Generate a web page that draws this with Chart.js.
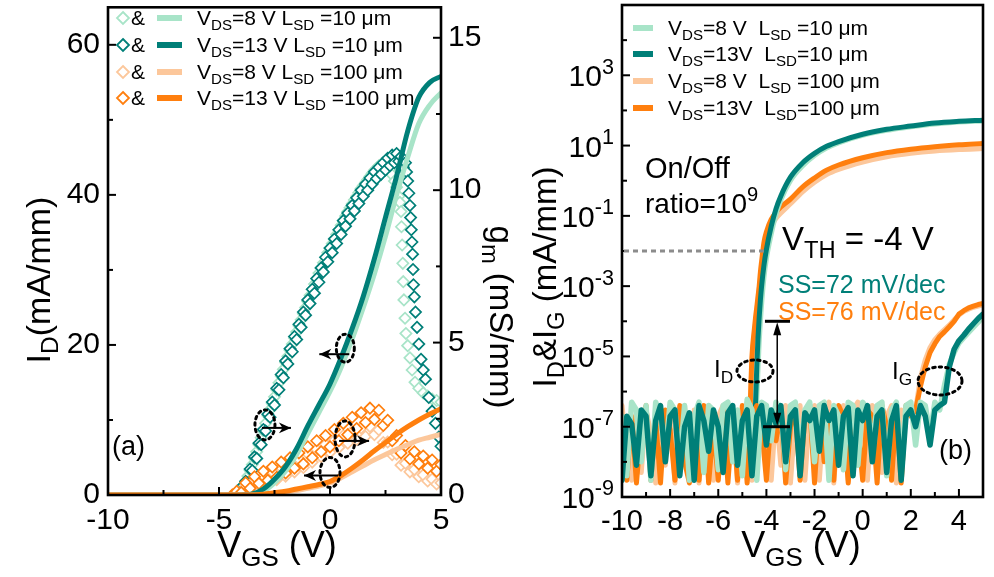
<!DOCTYPE html>
<html>
<head>
<meta charset="utf-8">
<script src="https://cdn.jsdelivr.net/npm/chart.js@4.4.1/dist/chart.umd.min.js"></script>
<style>
  body{margin:0;background:#fff;}
  #wrap{position:relative;width:994px;height:577px;overflow:hidden;}
  canvas{position:absolute;top:0;}
  #left{left:0;}
  #right{left:500px;}
</style>
</head>
<body>
<div id="wrap">
  <canvas id="left" width="530" height="577"></canvas>
  <canvas id="right" width="494" height="577"></canvas>
</div>
<script>
// ---------- data: panel (a), linear I_D and g_m ----------
const linV = [-10,-5,-4.5,-4,-3.5,-3,-2.5,-2,-1.5,-1,-0.5,0,0.5,1,1.5,2,2.5,3,3.5,4,4.5,5];
const idTeal13 = [0,0,0,0.05,0.15,0.8,2.1,3.8,6.2,9.2,12,14.8,18.3,22.2,26.5,31.5,37,42.5,48.5,53,55,55.8];
const idGreen8 = [0,0,0,0,0.05,0.5,1.6,3.2,5.4,8.2,11,13.8,17,20.8,25,29.5,34.5,40,45,49.5,52,53.6];
const idOrange13 = [0,0,0,0,0,0.1,0.3,0.5,0.8,1.1,1.4,1.8,2.6,3.6,4.7,5.9,7,8.1,9.1,10,10.8,11.5];
const idPeach8 = [0,0,0,0,0,0.05,0.2,0.4,0.6,0.9,1.2,1.6,2.3,3.1,3.9,4.7,5.4,6.1,6.7,7.3,7.7,8.1];

const gmTealV = [-4.3,-4.2,-4.1,-4,-3.9,-3.8,-3.7,-3.6,-3.5,-3.4,-3.3,-3.2,-3.1,-3,-2.9,-2.8,-2.7,-2.6,-2.5,-2.4,
  -2.3,-2.2,-2.1,-2,-1.9,-1.8,-1.7,-1.6,-1.5,-1.4,-1.3,-1.2,-1.1,-1,-0.9,-0.8,-0.7,-0.6,-0.5,-0.4,
  -0.3,-0.2,-0.1,0,0.1,0.2,0.3,0.4,0.5,0.6,0.7,0.8,0.9,1,1.1,1.2,1.3,1.4,1.5,1.6,
  1.7,1.8,1.9,2,2.1,2.2,2.3,2.4,2.5,2.6,2.7,2.8,2.9,3,3.1,3.2,3.3,3.4,
  3.45,3.5,3.55,3.6,3.63,3.66,3.69,3.72,3.74,3.76,3.8,3.85,3.92,4,4.1,4.2,4.3,4.45,4.6,4.75,4.9,5];
const gmTeal = [0,0.08,0.05,0.25,0.2,0.45,0.4,0.85,0.8,1.25,1.2,1.7,1.65,2.15,2.1,2.65,2.55,3.05,2.95,3.5,
  3.45,3.95,3.85,4.4,4.3,4.8,4.7,5.2,5.1,5.6,5.5,6,5.9,6.4,6.28,6.75,6.62,7.1,6.98,7.45,
  7.32,7.8,7.65,8.1,7.95,8.4,8.25,8.7,8.55,9,8.82,9.25,9.06,9.5,9.32,9.75,9.56,10,9.8,10.2,
  10,10.4,10.2,10.6,10.38,10.75,10.52,10.9,10.66,11.05,10.8,11.15,10.9,11.2,10.95,11.1,10.75,10.9,
  10.6,10.3,9.9,9.5,9.1,8.7,8.3,7.9,7.4,6.9,6.5,6,5.5,4.95,4.45,4.1,3.8,3.2,2.75,2.35,1.9,1.6];
const gmGreenV = [-4.3,-4.2,-4.1,-4,-3.9,-3.8,-3.7,-3.6,-3.5,-3.4,-3.3,-3.2,-3.1,-3,-2.9,-2.8,-2.7,-2.6,-2.5,-2.4,
  -2.3,-2.2,-2.1,-2,-1.9,-1.8,-1.7,-1.6,-1.5,-1.4,-1.3,-1.2,-1.1,-1,-0.9,-0.8,-0.7,-0.6,-0.5,-0.4,
  -0.3,-0.2,-0.1,0,0.1,0.2,0.3,0.4,0.5,0.6,0.7,0.8,0.9,1,1.1,1.2,1.3,1.4,1.5,1.6,
  1.7,1.8,1.9,2,2.1,2.2,2.3,2.4,2.5,2.6,2.7,2.8,2.9,3,3.1,
  3.15,3.2,3.22,3.25,3.28,3.3,3.33,3.38,3.42,3.5,3.6,3.7,3.83,4,4.2,4.4,4.6,4.8,5];
const gmGreen = [0,0.05,0.12,0.2,0.32,0.45,0.62,0.8,1,1.2,1.42,1.65,1.88,2.1,2.35,2.6,2.8,3,3.22,3.45,
  3.68,3.9,4.12,4.35,4.55,4.75,4.95,5.15,5.35,5.55,5.75,5.95,6.15,6.35,6.55,6.75,6.92,7.1,7.28,7.45,
  7.62,7.8,7.95,8.1,8.25,8.4,8.55,8.7,8.85,9,9.15,9.3,9.42,9.55,9.68,9.8,9.92,10.05,10.15,10.25,
  10.35,10.45,10.55,10.65,10.72,10.8,10.85,10.9,10.88,10.8,10.68,10.5,10.3,10.1,9.8,
  9.6,9.3,8.8,8.2,7.6,7,6.4,5.8,5.3,4.9,4.5,4.1,3.7,3.5,3.35,3.25,3.15,3.1,3.05];
const gmOrangeV = [-4.4,-4.2,-4,-3.8,-3.6,-3.4,-3.2,-3,-2.8,-2.6,-2.4,-2.2,-2,-1.8,-1.6,-1.4,-1.2,-1,-0.8,-0.6,
  -0.4,-0.2,0,0.2,0.4,0.6,0.8,1,1.2,1.4,1.6,1.8,2,2.2,2.4,2.6,2.8,3,3.2,3.4,
  3.6,3.8,4,4.2,4.4,4.6,4.8,5];
const gmOrange = [0,0.12,0.08,0.4,0.22,0.6,0.38,0.78,0.48,0.92,0.58,1.08,0.72,1.22,0.88,1.38,1.02,1.58,1.22,1.78,
  1.42,1.95,1.58,2.15,1.78,2.35,1.98,2.55,2.18,2.7,2.38,2.85,2.48,2.78,2.28,2.45,1.78,1.95,1.38,1.62,
  1.18,1.42,1.02,1.28,0.88,1.15,0.78,1.0];
const gmPeach = [0,0.05,0.1,0.3,0.2,0.48,0.3,0.63,0.4,0.76,0.5,0.9,0.62,1.03,0.76,1.18,0.9,1.35,1.08,1.5,
  1.26,1.66,1.4,1.8,1.56,1.95,1.7,2.1,1.82,2.2,1.92,2.25,1.98,2.14,1.72,1.74,1.32,1.34,0.98,1.04,
  0.76,0.84,0.6,0.66,0.46,0.52,0.36,0.4];

// ---------- data: panel (b), log I_D and I_G ----------
const idV = [-4.7,-4.6,-4.5,-4.45,-4.4,-4.35,-4.3,-4.25,-4.2,-4.1,-4,-3.8,-3.6,-3.4,-3,-2.5,-2,-1.5,-1,0,1,2,3,4,5];
const logIdTeal = [6e-8,6e-8,1e-7,5e-7,5e-6,3.2e-5,1.3e-4,4e-4,1e-3,4e-3,1.1e-2,0.05,0.16,0.37,1.26,3.2,6,9.5,13,21,29,36,44,49,52.5];
const logIdGreen = [6e-8,6e-8,8e-8,1.5e-7,6e-7,4e-6,2.5e-5,1e-4,3e-4,1.8e-3,6e-3,0.03,0.11,0.28,1,2.6,5.2,8.5,12,19.5,27,34,41,46.5,50];
const logIdOrange = [1e-7,1e-5,6e-5,1.3e-4,2.5e-4,5e-4,1e-3,2.5e-3,5e-3,0.018,0.035,0.079,0.126,0.178,0.3,0.66,1.2,2,2.8,4.5,6.3,7.9,9.3,10.5,11.5];
const logIdPeach = [8e-8,6e-6,4e-5,9e-5,1.8e-4,4e-4,8e-4,1.6e-3,3e-3,0.011,0.022,0.05,0.085,0.12,0.22,0.48,0.9,1.5,2.1,3.4,4.8,6,7,7.7,8.2];

const gateV = [-10,-9.8,-9.6,-9.4,-9.2,-9,-8.8,-8.6,-8.4,-8.2,
  -8,-7.8,-7.6,-7.4,-7.2,-7,-6.8,-6.6,-6.4,-6.2,
  -6,-5.8,-5.6,-5.4,-5.2,-5,-4.8,-4.6,-4.4,-4.2,
  -4,-3.8,-3.6,-3.4,-3.2,-3,-2.8,-2.6,-2.4,-2.2,
  -2,-1.8,-1.6,-1.4,-1.2,-1,-0.8,-0.6,-0.4,-0.2,
  0,0.2,0.4,0.6,0.8,1,1.2,1.4,1.6,1.8,
  2,2.2,2.4,2.6,2.8,3,3.2,3.4,3.6,3.8,
  4,4.2,4.4,4.6,4.8,5];
const igTeal = [3e-9,2e-7,1.2e-7,8e-9,3e-7,2e-7,4e-9,1.5e-7,4e-7,1e-8,
  2e-7,3e-7,4e-9,1e-7,2.5e-7,3e-9,4e-7,1.5e-7,2e-8,3e-7,
  1e-7,5e-9,2.5e-7,4e-7,8e-9,1.5e-7,3e-7,4e-9,2e-7,4e-7,
  3e-8,3e-7,1.2e-7,4e-7,1e-8,2e-7,3e-7,4e-9,2.5e-7,1.5e-7,
  3e-7,2e-8,4e-7,1.5e-7,3e-7,8e-9,2e-7,3.5e-7,4e-9,3e-7,
  1.5e-7,4e-7,1e-8,2e-7,3e-7,5e-9,1.5e-7,4e-7,3e-9,2e-7,
  3e-7,1e-7,4e-7,2e-7,3e-8,3e-7,4e-7,5e-7,5e-6,1.6e-5,
  2.8e-5,4e-5,6e-5,8.5e-5,1.2e-4,1.6e-4];
const igGreen = [2e-7,4e-9,5e-7,3e-7,1e-8,4e-7,3e-9,5e-7,2e-7,1.5e-8,
  5e-7,3e-7,8e-9,4e-7,3e-9,2e-7,5e-7,5e-9,4e-7,3e-7,
  6e-9,4e-7,5e-7,1e-8,3e-7,4e-9,6e-7,3e-7,3e-9,5e-7,
  4e-7,4e-8,5e-7,3e-7,6e-9,4e-7,5e-7,2e-8,3e-7,5e-7,
  1e-8,4e-7,5e-7,3e-9,4e-7,2e-7,6e-9,5e-7,4e-7,8e-9,
  5e-7,3e-7,3e-8,4e-7,5e-7,4e-9,3e-7,5e-7,1e-8,4e-7,
  5e-7,3e-8,5e-7,4e-7,6e-8,5e-7,3e-7,1.5e-6,6e-6,1.3e-5,
  2.4e-5,3.4e-5,4.8e-5,6.8e-5,9.5e-5,1.35e-4];
const igOrange = [5e-8,3e-9,2e-7,2.5e-9,1e-7,4e-7,3e-9,1.5e-7,2.5e-9,3e-7,
  8e-8,3e-9,4e-7,1e-8,2.5e-9,2e-7,3e-9,4e-7,2.5e-9,1e-7,
  3e-9,3e-7,2.5e-9,2e-7,3e-9,4e-7,2.5e-9,2e-7,4e-7,1e-7,
  3e-9,2e-7,4e-8,3e-7,2.5e-9,1e-7,3e-7,3e-9,2e-7,4e-7,
  2.5e-9,3e-7,1e-8,2e-7,3e-9,4e-7,2e-7,2.5e-9,3e-7,1e-7,
  3e-9,3e-7,2e-7,2.5e-9,4e-7,1e-7,3e-9,3e-7,2.5e-9,4e-7,
  2e-7,3e-7,1.4e-6,5e-6,1.3e-5,2.3e-5,3.7e-5,5e-5,7e-5,1e-4,
  1.6e-4,2e-4,2.4e-4,2.7e-4,3e-4,3.2e-4];
const igPeach = [4e-7,2e-8,3e-9,3e-7,5e-9,3e-7,6e-8,2.5e-9,4e-7,8e-9,
  3e-7,2.5e-9,2e-7,4e-7,5e-9,3e-7,2.5e-9,1e-7,4e-7,3e-9,
  2e-7,4e-7,6e-9,3e-7,2.5e-9,2e-7,5e-7,3e-9,3e-7,2e-7,
  4e-7,3e-9,3e-7,8e-9,4e-7,2.5e-9,2e-7,4e-7,3e-9,3e-7,
  4e-7,3e-9,3e-7,5e-7,2.5e-9,2e-7,4e-7,3e-9,3e-7,5e-7,
  2e-7,3e-9,4e-7,3e-7,5e-9,2e-7,4e-7,2.5e-9,3e-7,2e-7,
  4e-7,3e-7,2.5e-6,8e-6,1.8e-5,3e-5,4.3e-5,5.8e-5,7.8e-5,1.1e-4,
  1.5e-4,1.9e-4,2.2e-4,2.5e-4,2.7e-4,2.9e-4];

// ---------- ticks and labels ----------
const leftXTicks = [-10,-5,0,5];
const leftXMinor = [-7.5,-2.5,2.5];
const leftYTicks = [0,20,40,60];
const leftYMinor = [10,30,50];
const gmTicks = [0,5,10,15];
const gmMinor = [2.5,7.5,12.5];
const rightXTicks = [-10,-8,-6,-4,-2,0,2,4];
const rightXMinor = [-9,-7,-5,-3,-1,1,3,5];
const rightYExp = [-9,-7,-5,-3,-1,1,3];
const rightYMinorExp = [-8,-6,-4,-2,0,2,4];

const legendA = ['V_{DS}=8 V L_{SD} =10 μm','V_{DS}=13 V L_{SD} =10 μm','V_{DS}=8 V L_{SD} =100 μm','V_{DS}=13 V L_{SD} =100 μm'];
const legendB = ['V_{DS}=8 V  L_{SD} =10 μm','V_{DS}=13V  L_{SD}=10 μm','V_{DS}=8 V  L_{SD} =100 μm','V_{DS}=13V  L_{SD}=100 μm'];

const TEAL = '#007f78', GREEN = '#a8e4c8', ORANGE = '#ff7f0e', PEACH = '#fcc79b';
const legendColors = [GREEN, TEAL, PEACH, ORANGE];
const FF = '"Liberation Sans", Arial, sans-serif';

Chart.defaults.font.family = FF;
Chart.defaults.color = '#000';

function pts(xs, ys){ return xs.map((x,i)=>({x:x, y:ys[i]})); }

function parse(str){
  const parts=[]; const re=/([_^])\{([^}]*)\}/g; let last=0, m;
  while((m=re.exec(str))){
    if(m.index>last) parts.push([str.slice(last,m.index),0]);
    parts.push([m[2], m[1]==='_'?1:2]);
    last=re.lastIndex;
  }
  if(last<str.length) parts.push([str.slice(last),0]);
  return parts;
}
function rich(ctx, str, x, y, size, align, color){
  const parts=parse(str);
  let w=0;
  parts.forEach(p=>{ ctx.font=(p[1]?size*0.72:size)+'px '+FF; w+=ctx.measureText(p[0]).width; });
  let cx = align==='center' ? x-w/2 : align==='right' ? x-w : x;
  ctx.textAlign='left'; ctx.textBaseline='alphabetic'; ctx.fillStyle=color||'#000';
  parts.forEach(p=>{
    const s=p[1]?size*0.72:size;
    ctx.font=s+'px '+FF;
    const dy = p[1]===1 ? size*0.24 : p[1]===2 ? -size*0.42 : 0;
    ctx.fillText(p[0], cx, y+dy);
    cx+=ctx.measureText(p[0]).width;
  });
}
function rotText(ctx, str, x, y, size, ang){
  ctx.save(); ctx.translate(x,y); ctx.rotate(ang); rich(ctx,str,0,0,size,'center'); ctx.restore();
}
function frame(ctx, a){
  ctx.strokeStyle='#000'; ctx.lineWidth=2.6;
  ctx.strokeRect(a.left, a.top, a.right-a.left, a.bottom-a.top);
}
function tick(ctx, x1, y1, x2, y2){
  ctx.beginPath(); ctx.moveTo(x1,y1); ctx.lineTo(x2,y2); ctx.stroke();
}
function dottedEllipse(ctx, cx, cy, rx, ry){
  ctx.save(); ctx.setLineDash([2.5,4]); ctx.lineCap='round'; ctx.lineWidth=3; ctx.strokeStyle='#000';
  ctx.beginPath(); ctx.ellipse(cx,cy,rx,ry,0,0,Math.PI*2); ctx.stroke(); ctx.restore();
}
function arrow(ctx, x1, y1, x2, y2, head){
  const ang=Math.atan2(y2-y1,x2-x1);
  ctx.save(); ctx.strokeStyle='#000'; ctx.fillStyle='#000'; ctx.lineWidth=2;
  ctx.beginPath(); ctx.moveTo(x1,y1); ctx.lineTo(x2,y2); ctx.stroke();
  ctx.translate(x2,y2); ctx.rotate(ang);
  ctx.beginPath(); ctx.moveTo(0,0); ctx.lineTo(-head,-head*0.45); ctx.lineTo(-head*0.7,0); ctx.lineTo(-head,head*0.45); ctx.closePath(); ctx.fill();
  ctx.restore();
}
function diamond(ctx, x, y, r, color){
  ctx.save(); ctx.strokeStyle=color; ctx.lineWidth=1.8; ctx.fillStyle='#fff';
  ctx.beginPath(); ctx.moveTo(x,y-r); ctx.lineTo(x+r,y); ctx.lineTo(x,y+r); ctx.lineTo(x-r,y); ctx.closePath();
  ctx.fill(); ctx.stroke(); ctx.restore();
}
function fixPad(s){ s.paddingTop=0; s.paddingBottom=0; s.paddingLeft=0; s.paddingRight=0; }
function setTicks(list){ return function(s){ s.ticks=list.map(v=>({value:v})); }; }

function lineSet(data, color, w){
  return {type:'line', data:data, borderColor:color, borderWidth:w, pointRadius:0, fill:false,
    cubicInterpolationMode:'monotone', borderJoinStyle:'round', borderCapStyle:'round'};
}
function noiseSet(data, color, w){
  return {type:'line', data:data, borderColor:color, borderWidth:w, pointRadius:0, fill:false,
    tension:0, borderJoinStyle:'round', borderCapStyle:'round'};
}
function markSet(data, color){
  return {type:'line', data:data, showLine:false, yAxisID:'y2', pointStyle:'rectRot', pointRadius:5.6,
    pointBorderWidth:1.7, pointBorderColor:color, pointBackgroundColor:'#fff', borderColor:color};
}

// ---------- panel (a) ----------
const extrasA = {
  id:'extrasA',
  afterDraw(chart){
    const {ctx, chartArea:a, scales:{x, y, y2}} = chart;
    ctx.save();
    frame(ctx, a);
    ctx.lineWidth=2; ctx.strokeStyle='#000';
    leftXTicks.forEach(v=>{ const px=x.getPixelForValue(v); tick(ctx,px,a.bottom,px,a.bottom-8); });
    leftXMinor.forEach(v=>{ const px=x.getPixelForValue(v); tick(ctx,px,a.bottom,px,a.bottom-5); });
    leftYTicks.forEach(v=>{ const py=y.getPixelForValue(v); tick(ctx,a.left,py,a.left+8,py); });
    leftYMinor.forEach(v=>{ const py=y.getPixelForValue(v); tick(ctx,a.left,py,a.left+5,py); });
    gmTicks.forEach(v=>{ const py=y2.getPixelForValue(v); tick(ctx,a.right,py,a.right-8,py); });
    gmMinor.forEach(v=>{ const py=y2.getPixelForValue(v); tick(ctx,a.right,py,a.right-5,py); });

    // legend
    const rows=[18,45,72,98];
    rows.forEach((ry,i)=>{
      diamond(ctx,123,ry,6,legendColors[i]);
      ctx.font='21px '+FF; ctx.fillStyle='#000'; ctx.textAlign='left'; ctx.textBaseline='alphabetic';
      ctx.fillText('&',131,ry+7);
      ctx.strokeStyle=legendColors[i]; ctx.lineWidth=6;
      tick(ctx,157,ry,182,ry);
      rich(ctx,legendA[i],197,ry+7,21,'left');
    });
    rich(ctx,'(a)',112,455,27,'left');

    // circled markers with arrows
    let px=x.getPixelForValue(0.6), py=y.getPixelForValue(19.3);
    dottedEllipse(ctx,px+2,py-2,9,14); arrow(ctx,px+6,py+4,px-24,py+4,12);
    px=x.getPixelForValue(-2.93); py=y2.getPixelForValue(2.3);
    dottedEllipse(ctx,px,py,10,15); arrow(ctx,px-3,py+3,px+26,py+3,12);
    px=x.getPixelForValue(0.68); py=y2.getPixelForValue(1.84);
    dottedEllipse(ctx,px,py,10,18); arrow(ctx,px-6,py+2,px+24,py+2,12);
    px=x.getPixelForValue(0); py=y.getPixelForValue(3.0);
    dottedEllipse(ctx,px,py,10,15); arrow(ctx,px+8,py+3,px-26,py+3,12);

    // axis titles
    rotText(ctx,'I_{D}(mA/mm)',50,280,34,-Math.PI/2);
    rotText(ctx,'g_{m} (mS/mm)',490,317,33,Math.PI/2);
    rich(ctx,'V_{GS} (V)',277,557,36,'center');
    ctx.restore();
  }
};

new Chart(document.getElementById('left'), {
  data:{ datasets:[
    lineSet(pts(linV,idOrange13),ORANGE,5),
    lineSet(pts(linV,idPeach8),PEACH,5),
    lineSet(pts(linV,idTeal13),TEAL,5),
    lineSet(pts(linV,idGreen8),GREEN,5),
    markSet(pts(gmOrangeV,gmOrange),ORANGE),
    markSet(pts(gmOrangeV,gmPeach),PEACH),
    markSet(pts(gmTealV,gmTeal),TEAL),
    markSet(pts(gmGreenV,gmGreen),GREEN)
  ]},
  options:{
    responsive:false, animation:false, devicePixelRatio:1, events:[],
    layout:{padding:{top:5,left:0,right:0,bottom:0}},
    plugins:{legend:{display:false}, tooltip:{enabled:false}},
    scales:{
      x:{type:'linear', min:-10, max:5, grid:{display:false, drawTicks:false}, border:{display:false},
        afterBuildTicks:setTicks(leftXTicks),
        afterFit(s){ s.height=82; fixPad(s); },
        ticks:{font:{size:30}, padding:8, maxRotation:0, autoSkip:false}},
      y:{type:'linear', min:0, max:65, grid:{display:false, drawTicks:false}, border:{display:false},
        afterBuildTicks:setTicks(leftYTicks),
        afterFit(s){ s.width=108; fixPad(s); },
        ticks:{font:{size:30}, padding:8}},
      y2:{type:'linear', position:'right', min:0, max:16, grid:{display:false, drawTicks:false}, border:{display:false},
        afterBuildTicks:setTicks(gmTicks),
        afterFit(s){ s.width=89; fixPad(s); },
        ticks:{font:{size:30}, padding:7}}
    }
  },
  plugins:[extrasA]
});

// ---------- panel (b) ----------
const extrasB = {
  id:'extrasB',
  afterDraw(chart){
    const {ctx, chartArea:a, scales:{x, y}} = chart;
    ctx.save();
    frame(ctx, a);
    ctx.lineWidth=2; ctx.strokeStyle='#000';
    rightXTicks.forEach(v=>{ const px=x.getPixelForValue(v); tick(ctx,px,a.bottom,px,a.bottom-8); });
    rightXMinor.forEach(v=>{ const px=x.getPixelForValue(v); tick(ctx,px,a.bottom,px,a.bottom-5); });
    rightYExp.forEach(e=>{
      const py=y.getPixelForValue(Math.pow(10,e)); tick(ctx,a.left,py,a.left+8,py);
      rich(ctx,'10^{'+(e<0?'-':'')+Math.abs(e)+'}',a.left-8,py+11,30,'right');
    });
    rightYMinorExp.forEach(e=>{ const py=y.getPixelForValue(Math.pow(10,e)); tick(ctx,a.left,py,a.left+5,py); });

    // legend
    const rows=[28,54,81,108];
    rows.forEach((ry,i)=>{
      ctx.strokeStyle=legendColors[i]; ctx.lineWidth=6;
      tick(ctx,133,ry,153,ry);
      rich(ctx,legendB[i],168,ry+7,21,'left');
    });

    // threshold guide
    const yth=y.getPixelForValue(1e-2);
    ctx.save(); ctx.strokeStyle='#8c8c8c'; ctx.lineWidth=3; ctx.setLineDash([5,4]);
    tick(ctx,a.left+2,yth,x.getPixelForValue(-3.95),yth); ctx.restore();

    // on/off arrow with caps
    const ax=x.getPixelForValue(-3.55), yTop=y.getPixelForValue(1e-4), yBot=y.getPixelForValue(1e-7);
    ctx.strokeStyle='#000'; ctx.lineWidth=3;
    tick(ctx,x.getPixelForValue(-4.06),yTop,x.getPixelForValue(-3.02),yTop);
    tick(ctx,x.getPixelForValue(-4.14),yBot,x.getPixelForValue(-3.02),yBot);
    ctx.lineWidth=1.5; tick(ctx,ax,yTop+8,ax,yBot-8);
    ctx.fillStyle='#000';
    ctx.beginPath(); ctx.moveTo(ax,yTop+1); ctx.lineTo(ax-4,yTop+14); ctx.lineTo(ax+4,yTop+14); ctx.closePath(); ctx.fill();
    ctx.beginPath(); ctx.moveTo(ax,yBot-1); ctx.lineTo(ax-4,yBot-14); ctx.lineTo(ax+4,yBot-14); ctx.closePath(); ctx.fill();

    // text annotations
    rich(ctx,'On/Off',145,178,29,'left');
    rich(ctx,'ratio=10^{9}',145,213,28,'left');
    rich(ctx,'V_{TH} = -4 V',282,250,33,'left');
    rich(ctx,'SS=72 mV/dec',278,293,25,'left',TEAL);
    rich(ctx,'SS=76 mV/dec',278,320,25,'left',ORANGE);
    rich(ctx,'I_{D}',214,377,24,'left');
    dottedEllipse(ctx,255,371,18,11);
    rich(ctx,'I_{G}',392,379,24,'left');
    dottedEllipse(ctx,440,381,22,14);
    rich(ctx,'(b)',439,459,27,'left');

    // axis titles
    rotText(ctx,'I_{D}&I_{G} (mA/mm)',56,277,33,-Math.PI/2);
    rich(ctx,'V_{GS} (V)',301,557,36,'center');
    ctx.restore();
  }
};

new Chart(document.getElementById('right'), {
  data:{ datasets:[
    noiseSet(pts(gateV,igTeal),TEAL,5.5),
    noiseSet(pts(gateV,igGreen),GREEN,5.5),
    noiseSet(pts(gateV,igOrange),ORANGE,5),
    noiseSet(pts(gateV,igPeach),PEACH,5),
    lineSet(pts(idV,logIdTeal),TEAL,5),
    lineSet(pts(idV,logIdGreen),GREEN,5),
    lineSet(pts(idV,logIdOrange),ORANGE,5),
    lineSet(pts(idV,logIdPeach),PEACH,5)
  ]},
  options:{
    responsive:false, animation:false, devicePixelRatio:1, events:[],
    layout:{padding:{top:5,left:0,right:11,bottom:0}},
    plugins:{legend:{display:false}, tooltip:{enabled:false}},
    scales:{
      x:{type:'linear', min:-10, max:5, grid:{display:false, drawTicks:false}, border:{display:false},
        afterBuildTicks:setTicks(rightXTicks),
        afterFit(s){ s.height=80; fixPad(s); },
        ticks:{font:{size:29}, padding:8, maxRotation:0, autoSkip:false}},
      y:{type:'logarithmic', min:1e-9, max:1e5, grid:{display:false, drawTicks:false}, border:{display:false},
        afterFit(s){ s.width=122; fixPad(s); },
        ticks:{display:false}}
    }
  },
  plugins:[extrasB]
});
</script>
</body>
</html>
